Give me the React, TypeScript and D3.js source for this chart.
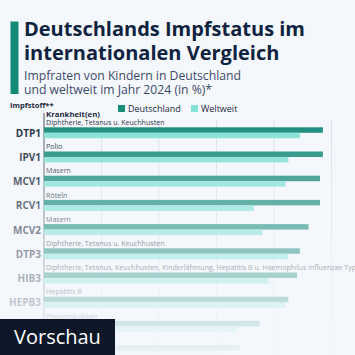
import React from "react";
import * as d3 from "d3";

const vaccines = ["DTP1", "IPV1", "MCV1", "RCV1", "MCV2", "DTP3", "HIB3", "HEPB3", "PCV3", "ROTAC"];
const diseases = [
  "Diphtherie, Tetanus u. Keuchhusten",
  "Polio",
  "Masern",
  "Röteln",
  "Masern",
  "Diphtherie, Tetanus u. Keuchhusten",
  "Diphtherie, Tetanus, Keuchhusten, Kinderlähmung, Hepatitis B u. Haemophilus influenzae Typ",
  "Hepatitis B",
  "Pneumokokken",
  "Rotaviren",
];
const germany = [97, 97, 96, 96, 92, 89, 88, 85, 75, 68];
const worldwide = [89, 85, 84, 73, 76, 85, 78, 84, 67, 60];
const xTicks = [0, 20, 40, 60, 80, 100];

const BG = "#f4f7fb";
const DE = "#1a8c7c";
const WW = "#84e2d6";

export default function App() {
  const W = 355, H = 355;
  const x = d3.scaleLinear().domain([0, 100]).range([44, 331.5]);
  const y = d3.scaleBand().domain(vaccines).range([119.5, 119.5 + 24.2 * vaccines.length]).paddingInner(0).paddingOuter(0);
  const barH = 5.5;
  const font = "'Open Sans', 'Noto Sans', sans-serif";
  return (
    <svg width={W} height={H} style={{ position: "absolute", left: 0, top: 0 }} fontFamily={font}>
      <defs>
        <linearGradient id="fade" x1="0" y1="0" x2="0" y2="1">
          <stop offset="0" stopColor={BG} stopOpacity={0} />
          <stop offset="1" stopColor={BG} stopOpacity={0.97} />
        </linearGradient>
        <clipPath id="plotClip">
          <rect x={0} y={0} width={W} height={319} />
        </clipPath>
      </defs>
      <rect width={W} height={H} fill={BG} />
      <rect x={10.5} y={21.5} width={8} height={72.5} fill="#138a78" />
      <text x={24} y={36} fontSize={20} fontWeight={700} fill="#0f2340">Deutschlands Impfstatus im</text>
      <text x={24} y={60} fontSize={20} fontWeight={700} fill="#0f2340">internationalen Vergleich</text>
      <text x={24} y={80} fontSize={12.2} fill="#3d4b6a">Impfraten von Kindern in Deutschland</text>
      <text x={24} y={94} fontSize={12.2} fill="#3d4b6a">und weltweit im Jahr 2024 (in %)*</text>

      <text x={10} y={108} fontSize={7.6} fontWeight={700} fill="#1c2b40">Impfstoff**</text>
      <text x={46} y={117} fontSize={7.8} fontWeight={700} fill="#1c2b40">Krankheit(en)</text>
      <rect x={118} y={105} width={7} height={7} fill={DE} />
      <text x={128} y={111.5} fontSize={9} fill="#1c2b40">Deutschland</text>
      <rect x={191} y={105} width={7} height={7} fill={WW} />
      <text x={201} y={111.5} fontSize={9} fill="#1c2b40">Weltweit</text>

      {xTicks.slice(1).map((t) => (
        <line key={t} x1={x(t)} x2={x(t)} y1={120} y2={H} stroke="#dde2ea" strokeWidth={1} />
      ))}
      <line x1={x(0)} x2={x(0)} y1={113} y2={H} stroke="#1c2b40" strokeWidth={0.8} />

      {vaccines.map((v, i) => {
        const y0 = (y(v) as number) + 7.8;
        return (
          <g key={v}>
            <rect x={x(0)} y={y0} width={x(germany[i]) - x(0)} height={barH} fill={DE} />
            <rect x={x(0)} y={y0 + barH} width={x(worldwide[i]) - x(0)} height={barH} fill={WW} />
            <g clipPath="url(#plotClip)">
              <text x={46} y={y0 - 2.3} fontSize={7.1} fill="#2b3545">{diseases[i]}</text>
              <text x={41} y={y0 + barH + 4} fontSize={10} fontWeight={700} fill="#1c2b40" textAnchor="end">{v}</text>
            </g>
          </g>
        );
      })}

      <rect x={0} y={120} width={W} height={H - 120} fill="url(#fade)" />

      <rect x={0} y={319} width={115} height={36} fill="#0d1727" />
      <text x={14} y={344} fontSize={20} fill="#ffffff">Vorschau</text>
    </svg>
  );
}
